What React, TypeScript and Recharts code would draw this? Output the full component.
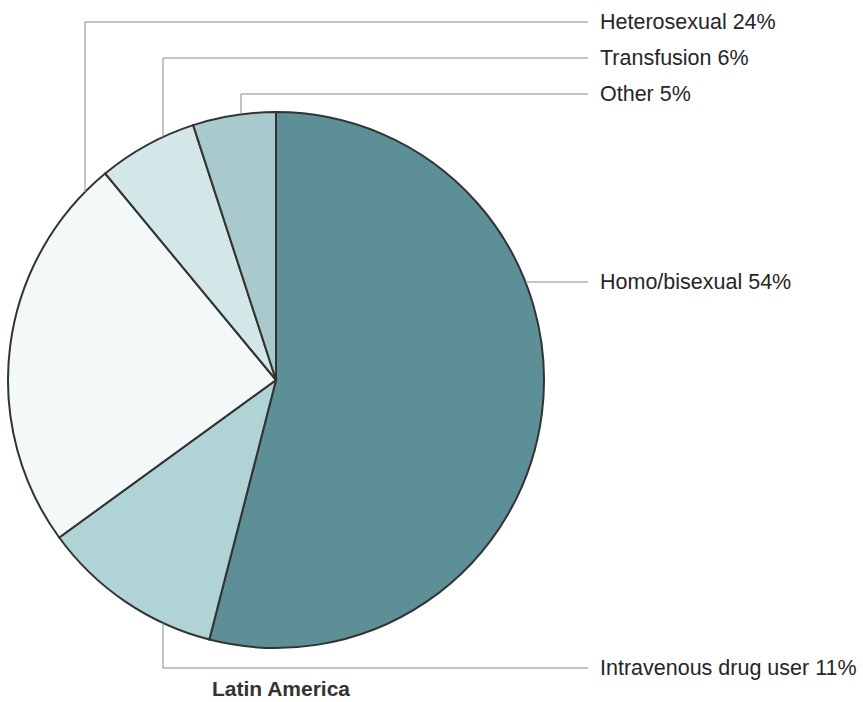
import React from 'react';
import { PieChart, Pie, Cell } from 'recharts';

// AIDS transmission categories, Latin America (percent)
const categories = ['Homo/bisexual', 'Intravenous drug user', 'Heterosexual', 'Transfusion', 'Other'];
const shares = [54, 11, 24, 6, 5];
const sliceColors = ['#5d8f96', '#b0d3d5', '#f2f9f8', '#d3e7e8', '#a9cacd'];

// leader layout: vertical drop x (relative to pie centre) or null for a horizontal leader, label row y
const leaderX = [null, -113, -191, -113, -35];
const labelRowY = [282, 668, 22, 58, 94];
const LABEL_X = 600;
const LINE_END = 588;

const data = categories.map((name, i) => ({ name, value: shares[i] }));

const renderLabel = (props: any) => {
  const { cx, cy, outerRadius, index, name, value } = props;
  const y = labelRowY[index];
  const dx = leaderX[index];
  let path: string;
  if (dx === null) {
    // horizontal leader leaving the right edge of the pie
    const edgeX = cx + Math.sqrt(outerRadius * outerRadius - (y - cy) * (y - cy));
    path = `M${edgeX},${y}L${LINE_END},${y}`;
  } else {
    const x = cx + dx;
    const h = Math.sqrt(outerRadius * outerRadius - dx * dx);
    const edgeY = y < cy ? cy - h : cy + h;
    path = `M${x},${edgeY}L${x},${y}L${LINE_END},${y}`;
  }
  return (
    <g key={`lbl-${index}`}>
      <path d={path} stroke="#8a8a8a" strokeWidth={1} fill="none" />
      <text
        x={LABEL_X}
        y={y}
        dominantBaseline="central"
        fill="#262626"
        fontSize={21.5}
        fontFamily="'Liberation Sans', Arial, sans-serif"
      >
        {`${name} ${value}%`}
      </text>
    </g>
  );
};

const App: React.FC = () => {
  return (
    <div style={{ position: 'absolute', left: 0, top: 0, width: 863, height: 702, background: '#fff' }}>
      <PieChart width={863} height={702} margin={{ top: 0, right: 0, bottom: 0, left: 0 }}>
        <Pie
          data={data}
          dataKey="value"
          nameKey="name"
          cx={276}
          cy={380}
          outerRadius={268}
          startAngle={90}
          endAngle={-270}
          stroke="#333"
          strokeWidth={2}
          label={renderLabel}
          labelLine={false}
          isAnimationActive={false}
        >
          {data.map((d, i) => (
            <Cell key={d.name} fill={sliceColors[i]} />
          ))}
        </Pie>
        <text
          x={281}
          y={688}
          textAnchor="middle"
          dominantBaseline="central"
          fill="#333"
          fontSize={21}
          fontWeight="bold"
          fontFamily="'Liberation Sans', Arial, sans-serif"
        >
          Latin America
        </text>
      </PieChart>
    </div>
  );
};

export default App;
